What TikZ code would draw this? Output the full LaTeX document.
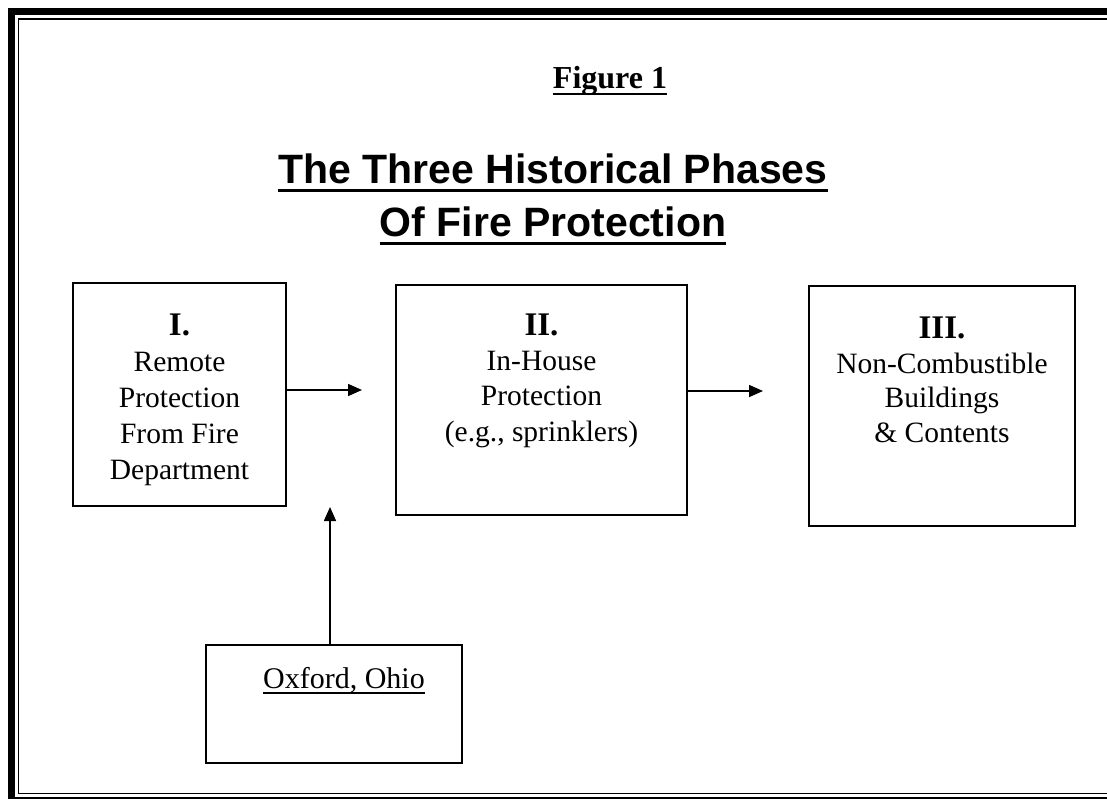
\documentclass[tikz,border=0pt]{standalone}
\usepackage{fontspec}
\setmainfont{Liberation Serif}
\newfontfamily\arialfont{Liberation Sans}
\usetikzlibrary{arrows.meta}
\begin{document}
\begin{tikzpicture}[x=1pt,y=-1pt,
  box/.style={draw, line width=1.5pt, rectangle, inner sep=0pt},
  arr/.style={line width=1.6pt, -{Triangle[length=14pt,width=12pt]}},
  txt/.style={inner sep=0pt, anchor=base, font=\fontsize{29.5}{35}\selectfont},
  num/.style={inner sep=0pt, anchor=base, font=\fontsize{33}{38}\selectfont\bfseries},
  ttl/.style={inner sep=0pt, anchor=base, font=\arialfont\bfseries\fontsize{41}{48}\selectfont},
  uline/.style={line width=#1}]
\useasboundingbox (0,0) rectangle (1107,798);
\begin{scope}
  \clip (0,0) rectangle (1107,798);
  \draw[line width=7.5pt] (11.25,11.25) rectangle (1140,800.75);
  \draw[line width=1.8pt] (18.5,19) rectangle (1125,793.5);
\end{scope}
% titles
\node[inner sep=0pt, anchor=base, font=\fontsize{32}{38}\selectfont\bfseries] (fig) at (610,88) {Figure 1};
\draw[uline=2.5pt] ([yshift=-6pt]fig.base west) -- ([yshift=-6pt]fig.base east);
\node[ttl] (t1) at (553,183) {The Three Historical Phases};
\draw[uline=3pt] ([yshift=-7pt]t1.base west) -- ([yshift=-7pt]t1.base east);
\node[ttl] (t2) at (553,236) {Of Fire Protection};
\draw[uline=3pt] ([yshift=-7pt]t2.base west) -- ([yshift=-7pt]t2.base east);
% boxes
\node[box, minimum width=213pt, minimum height=223pt] (b1) at (179.5,394.5) {};
\node[box, minimum width=291pt, minimum height=230pt] (b2) at (541.5,400) {};
\node[box, minimum width=266pt, minimum height=240pt] (b3) at (942,406) {};
\node[box, minimum width=256pt, minimum height=118pt] (ox) at (334,704) {};
% box texts
\node[num] (n1) at (179.5,335) {I.};
\node[txt] (l11) at (179.5,371) {Remote};
\node[txt] (l12) at (179.5,407) {Protection};
\node[txt] (l13) at (179.5,443) {From Fire};
\node[txt] (l14) at (179.5,479) {Department};
\node[num] (n2) at (541.5,335) {II.};
\node[txt] (l21) at (541.5,370) {In-House};
\node[txt] (l22) at (541.5,405.5) {Protection};
\node[txt] (l23) at (541.5,441) {(e.g., sprinklers)};
\node[num] (n3) at (942,338) {III.};
\node[txt] (l31) at (942,373) {Non-Combustible};
\node[txt] (l32) at (942,407.5) {Buildings};
\node[txt] (l33) at (942,442) {\& Contents};
\node[txt, font=\fontsize{30}{35}\selectfont] (oxt) at (344,688) {Oxford, Ohio};
\draw[uline=1.5pt] ([yshift=-5pt]oxt.base west) -- ([yshift=-5pt]oxt.base east);
% arrows
\coordinate (a1) at (362,390);
\coordinate (a2) at (763,391);
\coordinate (a3) at (330,507);
\draw[arr] (b1.east |- a1) -- (a1);
\draw[arr] (b2.east |- a2) -- (a2);
\draw[arr] (ox.north -| a3) -- (a3);
\end{tikzpicture}
\end{document}
